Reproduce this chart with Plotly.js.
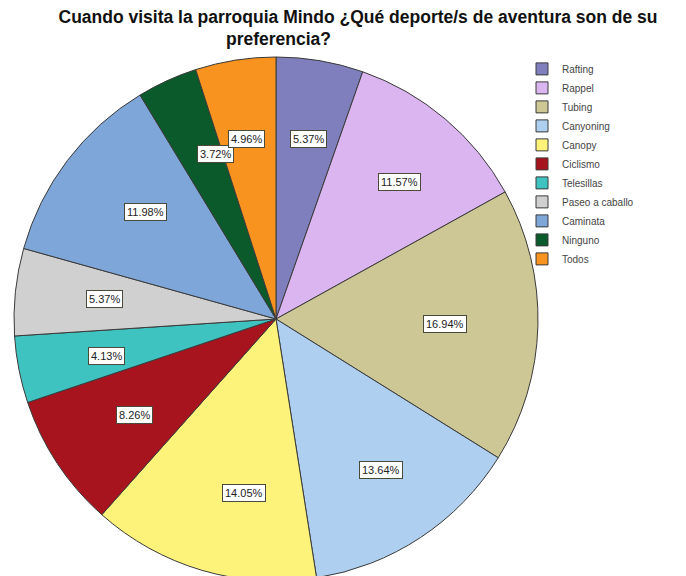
<!DOCTYPE html>
<html>
<head>
<meta charset="utf-8">
<script src="https://cdn.plot.ly/plotly-3.0.1.min.js"></script>
<style>
html,body{margin:0;padding:0;overflow:hidden;background:#fff;width:686px;height:576px;}
#chart{width:686px;height:600px;}
</style>
</head>
<body>
<div id="chart"></div>
<script>
const categories = ["Rafting","Rappel","Tubing","Canyoning","Canopy","Ciclismo","Telesillas","Paseo a caballo","Caminata","Ninguno","Todos"];
const percentages = [5.37,11.57,16.94,13.64,14.05,8.26,4.13,5.37,11.98,3.72,4.96];
const sliceColors = ["#7f7fbd","#dab5ef","#cdc796","#aecfef","#fdf27a","#a8141e","#3ec3c0","#d0d0d0","#7fa6d8","#0b5a2c","#f7931e"];
const titleLine1 = "Cuando visita la parroquia Mindo ¿Qué deporte/s de aventura son de su";
const titleLine2 = "preferencia?";

const W = 686, H = 600;
const margin = {l:14, r:0, t:57, b:19};
const plotW = W - margin.l - margin.r;
const plotH = H - margin.t - margin.b;
const domX = plotH / plotW;   // square pie domain

// label annotations placed along each slice's mid-angle
const total = percentages.reduce((a,b)=>a+b,0);
let cum = 0;
const annotations = [];
percentages.forEach((v,i)=>{
  const mid = (cum + v/2) / total * 2 * Math.PI;
  cum += v;
  const f = 0.73;
  const x = domX/2 + f*(domX/2)*Math.sin(mid);
  const y = 0.5 + f*0.5*Math.cos(mid);
  annotations.push({
    x:x, y:y, xref:"paper", yref:"paper", showarrow:false,
    text: v.toFixed(2) + "%",
    font:{family:"Liberation Sans, Arial, sans-serif", size:11, color:"#222"},
    bgcolor:"#ffffff", bordercolor:"#4a4a3a", borderwidth:1, borderpad:2
  });
});
annotations.push({
  x:(278 - margin.l)/plotW, y:1 + (57-39)/plotH, xref:"paper", yref:"paper",
  xanchor:"center", yanchor:"middle", showarrow:false, text:titleLine2,
  font:{family:"Liberation Sans, Arial, sans-serif", size:17.5, color:"#111", weight:"bold"}
});

const data = [{
  type:"pie",
  labels:categories,
  values:percentages,
  sort:false,
  direction:"clockwise",
  rotation:0,
  textinfo:"none",
  hoverinfo:"label+percent",
  marker:{colors:sliceColors, line:{color:"#3a3a3a", width:1}},
  domain:{x:[0, domX], y:[0,1]}
}];

const layout = {
  width:W, height:H,
  margin:margin,
  paper_bgcolor:"#ffffff",
  plot_bgcolor:"#ffffff",
  title:{
    text:titleLine1,
    x:358/W, xanchor:"center", xref:"container",
    y:1 - 17/H, yanchor:"middle", yref:"container",
    font:{family:"Liberation Sans, Arial, sans-serif", size:17.5, color:"#111", weight:"bold"}
  },
  showlegend:true,
  legend:{
    x:(522 - margin.l)/plotW, xanchor:"left",
    y:1.005, yanchor:"top",
    font:{family:"Liberation Sans, Arial, sans-serif", size:10, color:"#444"},
    bgcolor:"rgba(0,0,0,0)"
  },
  annotations:annotations
};

Plotly.newPlot("chart", data, layout, {displayModeBar:false, staticPlot:true});
</script>
</body>
</html>
